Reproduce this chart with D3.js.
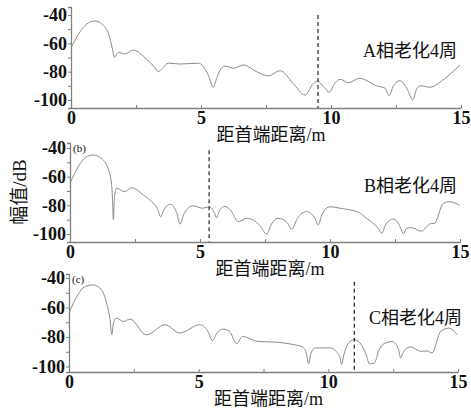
<!DOCTYPE html>
<html><head><meta charset="utf-8">
<script src="https://cdn.jsdelivr.net/npm/d3@7"></script>
<style>
body{margin:0;background:#fff;}
svg{display:block;}
</style></head>
<body>
<svg id="c" width="471" height="410"></svg>
<script>
// ---- data ----
const xTicks = [0, 5, 10, 15];
const xMinorTicks = [0, 2.5, 5, 7.5, 10, 12.5, 15];
const yTicks = [-40, -60, -80, -100];
const yMinorTicks = [-40, -50, -60, -70, -80, -90, -100];
const xTitle = "距首端距离/m";
const yTitle = "幅值/dB";
const panelNames = ["A相老化4周", "B相老化4周", "C相老化4周"];
const panelTags = ["", "(b)", "(c)"];
const faultPos = [9.5, 5.35, 11.0];

const distA = [0,0.35,0.6,0.92,1.26,1.45,1.58,1.67,1.82,2.07,2.4,2.91,3.2,3.36,3.5,3.74,4.2,4.9,5.09,5.28,5.47,5.6,5.73,5.92,6.24,6.63,7.14,7.59,8.04,8.55,9.0,9.32,9.47,9.77,9.93,10.15,10.35,10.67,11.1,11.76,12.08,12.24,12.4,12.65,12.95,13.14,13.3,13.45,13.8,14.3,14.96];
const ampA  = [-63.3,-51.8,-46.4,-44.2,-47.6,-53.5,-63,-69.9,-66.3,-67.5,-64.7,-71.3,-76.5,-80,-78,-74,-74.6,-74,-76.4,-82.3,-91,-84.9,-79,-76,-77.6,-75.3,-80,-83,-79.3,-88.4,-96.5,-88.3,-86.6,-91.8,-94.5,-88.1,-85.4,-87.8,-84.7,-90,-91.7,-97,-90,-86.4,-93,-100,-92,-89.9,-91,-85.9,-75.3];

const distB = [0,0.35,0.6,0.9,1.25,1.54,1.62,1.67,1.71,1.8,2.1,2.37,2.82,3.14,3.38,3.49,3.6,3.85,4.1,4.23,4.38,4.74,5.1,5.36,5.55,5.64,5.75,5.96,6.2,6.47,6.8,7.3,7.56,7.75,8.0,8.35,8.53,8.75,9.1,9.42,9.55,9.7,10.0,10.38,11.1,11.4,11.85,11.99,12.15,12.44,12.7,12.82,12.95,13.14,13.5,13.9,14.0,14.36,14.6,14.97];
const ampB  = [-64.7,-52,-46.5,-44.9,-48,-58.8,-70,-90,-74,-68,-70.5,-67.7,-72.8,-77.5,-83,-88,-83.5,-79.3,-85,-93.2,-86,-80.3,-82,-81,-85,-88.6,-83.5,-80.7,-84,-91.4,-89,-94,-100,-93,-89,-92,-96.7,-89,-84.4,-89,-93.7,-86,-81,-82,-84.9,-89,-96,-99.5,-93,-89.5,-95,-100,-96,-95.6,-98,-92.6,-92.8,-78.6,-77.5,-79.8];

const distC = [0,0.35,0.6,0.93,1.25,1.45,1.58,1.65,1.72,1.83,2.1,2.35,2.99,3.7,4.27,5.04,5.35,5.53,5.7,5.96,6.19,6.47,6.69,7.27,8.04,8.68,9.0,9.15,9.24,9.33,9.5,10.04,10.3,10.45,10.51,10.6,10.74,11.0,11.27,11.48,11.58,11.77,11.95,12.15,12.47,12.7,12.79,12.9,13.18,13.56,13.82,14.0,14.33,14.65,14.97];
const ampC  = [-63.8,-51,-46,-44.7,-48,-57,-68,-78.4,-70,-67.2,-69.5,-67.9,-78.5,-71.7,-77.3,-71.7,-76,-82.5,-77.5,-74.7,-76.2,-84.5,-79.6,-83,-83.6,-85.2,-86.7,-91,-98.2,-91,-87.4,-87.4,-89.7,-94,-98.7,-92,-85.2,-81.8,-85.2,-93,-98.2,-97.8,-89,-84.5,-83,-88,-94.2,-90,-86.7,-89.7,-89.5,-90.8,-76.2,-74,-78.5];

const series = [[distA, ampA], [distB, ampB], [distC, ampC]];

// ---- layout (pixels) ----
const panels = [
  {x0:71, x15:461, y40:15,  y100:100, yTop:7,   yBot:108, dashTop:-40,   nameX:457, nameY:57},
  {x0:70, x15:460, y40:148, y100:234, yTop:143, yBot:242, dashTop:-41.5, nameX:457, nameY:192},
  {x0:69, x15:458, y40:278, y100:366.5, yTop:274, yBot:372, dashTop:-42.5, nameX:462, nameY:324}
];

const SERIF = "Liberation Serif";
const MIX = "'Liberation Serif','Noto Sans CJK SC',serif";
const svg = d3.select("#c");

panels.forEach((p, i) => {
  const x = d3.scaleLinear().domain([0, 15]).range([p.x0, p.x15]);
  const base = d3.scaleLinear().domain([-100, -40]).range([p.y100, p.y40]);
  const y = d3.scaleLinear().domain([base.invert(p.yBot), base.invert(p.yTop)]).range([p.yBot, p.yTop]);
  const g = svg.append("g");

  // curve
  const [dx, dy] = series[i];
  const pts = dx.map((d, k) => [d, dy[k]]);
  g.append("path").datum(pts)
    .attr("fill", "none").attr("stroke", "#8c8c8c").attr("stroke-width", 1)
    .attr("d", d3.line().x(d => x(d[0])).y(d => y(d[1])).curve(d3.curveMonotoneX));

  // dashed fault line
  g.append("line")
    .attr("x1", x(faultPos[i])).attr("x2", x(faultPos[i]))
    .attr("y1", y(p.dashTop)).attr("y2", p.yBot)
    .attr("stroke", "#111").attr("stroke-width", 1.1).attr("stroke-dasharray", "4,3");

  // y axis
  const ya = g.append("g").attr("transform", `translate(${p.x0},0)`)
    .call(d3.axisLeft(y).tickValues(yMinorTicks).tickSize(3).tickFormat(""));
  ya.select(".domain").attr("stroke", "#808080").attr("stroke-width", 1.3);
  ya.selectAll(".tick line").attr("stroke", "#808080");
  const yl = g.append("g").attr("transform", `translate(${p.x0},0)`)
    .call(d3.axisLeft(y).tickValues(yTicks).tickSize(0).tickPadding(4).tickFormat(d => d));
  yl.attr("font-family", SERIF).attr("font-size", 18).attr("font-weight", "bold");
  yl.select(".domain").remove();
  yl.selectAll("text").attr("fill", "#111");

  // x axis
  const xa = g.append("g").attr("transform", `translate(0,${p.yBot})`)
    .call(d3.axisBottom(x).tickValues(xMinorTicks).tickSizeInner(-3).tickSizeOuter(0).tickFormat(""));
  xa.select(".domain").attr("stroke", "#808080").attr("stroke-width", 1.5);
  xa.selectAll(".tick line").attr("stroke", "#808080");
  const xl = g.append("g").attr("transform", `translate(0,${p.yBot})`)
    .call(d3.axisBottom(x).tickValues(xTicks).tickSize(0).tickPadding(3).tickFormat(d => d));
  xl.attr("font-family", SERIF).attr("font-size", 18).attr("font-weight", "bold");
  xl.select(".domain").remove();
  xl.selectAll("text").attr("fill", "#111");

  // x title
  g.append("text").attr("x", (p.x0 + p.x15) / 2 + 5).attr("y", p.yBot + 33)
    .attr("text-anchor", "middle").style("font-family", MIX).style("font-size", "18px")
    .attr("fill", "#111").text(xTitle);

  // panel name
  g.append("text").attr("x", p.nameX).attr("y", p.nameY)
    .attr("text-anchor", "end").style("font-family", MIX).style("font-size", "18px")
    .attr("fill", "#111").text(panelNames[i]);

  // tag
  if (panelTags[i]) {
    g.append("text").attr("x", p.x0 + 3).attr("y", p.yTop + 9)
      .style("font-family", MIX).style("font-size", "11px").attr("fill", "#111").text(panelTags[i]);
  }
});

// y title
svg.append("text").attr("transform", "translate(26,192) rotate(-90)")
  .attr("text-anchor", "middle").style("font-family", MIX).style("font-size", "19px")
  .attr("fill", "#111").text(yTitle);
</script>
</body></html>
